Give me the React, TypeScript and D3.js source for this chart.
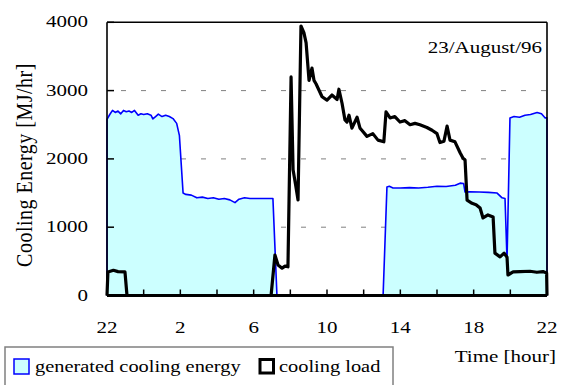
import React from "react";
import * as d3 from "d3";

// Hours elapsed since 22:00 on the previous day (0..24)
const genHours = [
  0, 0, 0.15, 0.3, 0.45, 0.6, 0.75, 0.9, 1.05, 1.2, 1.35, 1.5, 1.7, 1.85, 2.0, 2.2, 2.4, 2.5, 2.65, 2.8,
  3.0, 3.2, 3.4, 3.6, 3.8, 3.95, 4.15, 4.3, 4.6, 4.9, 5.2, 5.5, 5.8, 6.1, 6.4, 6.7, 6.98, 7.2, 7.5,
  7.8, 8.1, 8.4, 8.7, 9.05, 9.27, 15.06, 15.27, 15.4, 15.6, 16.0, 16.5, 17.0, 17.5, 18.0, 18.5, 19.0,
  19.26, 19.45, 19.53, 19.8, 20.3, 20.8, 21.28, 21.55, 21.71, 21.82, 21.98, 22.2, 22.5, 22.8, 23.1,
  23.46, 23.7, 23.9, 24, 24,
];
const genValues = [
  0, 2580, 2650, 2710, 2680, 2700, 2660, 2710, 2690, 2700, 2680, 2710, 2640, 2660, 2650, 2660, 2640, 2585,
  2620, 2655, 2620, 2640, 2620, 2590, 2520, 2340, 1500, 1480, 1470, 1430, 1440, 1420, 1430, 1410, 1420,
  1400, 1360, 1410, 1430, 1420, 1420, 1420, 1420, 1420, 0, 0, 1590, 1600, 1575, 1575, 1580, 1575, 1585,
  1600, 1595, 1615, 1645, 1640, 1515, 1520, 1515, 1510, 1500, 1430, 1420, 520, 2600, 2620, 2610, 2640,
  2650, 2680, 2660, 2600, 2600, 0,
];

const loadHours = [
  0, 0.05, 0.35, 0.6, 0.98, 1.09, 8.95, 9.16, 9.33, 9.55, 9.71, 9.87, 10.04, 10.15, 10.3, 10.42, 10.58,
  10.74, 10.86, 11.02, 11.18, 11.29, 11.4, 11.73, 12.0, 12.27, 12.55, 12.65, 12.82, 12.98, 13.09, 13.2,
  13.36, 13.64, 13.8, 13.9, 14.18, 14.5, 14.78, 15.1, 15.22, 15.44, 15.7, 15.98, 16.25, 16.53, 16.8,
  17.07, 17.45, 17.73, 18.0, 18.16, 18.38, 18.55, 18.71, 18.98, 19.26, 19.42, 19.53, 19.64, 19.91,
  20.13, 20.35, 20.51, 20.78, 21.06, 21.16, 21.44, 21.66, 21.82, 21.87, 22.15, 22.53, 23.07, 23.45,
  23.78, 23.98, 24,
];
const loadValues = [
  0, 345, 370, 350, 345, 0, 0, 593, 447, 400, 430, 420, 3200, 1840, 1600, 1400, 3946, 3850, 3700, 3150,
  3330, 3150, 3100, 2910, 2860, 2935, 2870, 3020, 2815, 2570, 2540, 2640, 2450, 2610, 2450, 2420, 2330,
  2370, 2275, 2250, 2690, 2600, 2620, 2540, 2560, 2500, 2520, 2500, 2460, 2420, 2370, 2240, 2260, 2480,
  2275, 2250, 2090, 2010, 1985, 1395, 1350, 1330, 1280, 1135, 1180, 1150, 620, 565, 620, 560, 300, 345,
  350, 355, 340, 350, 330, 0,
];

const xTicks = [0, 2, 4, 6, 8, 10, 12, 14, 16, 18, 20, 22, 24];
const xLabelTicks = [0, 4, 8, 12, 16, 20, 24];
const xTickLabels = ["22", "2", "6", "10", "14", "18", "22"];
const yTicks = [0, 1000, 2000, 3000, 4000];
const yGrid = [1000, 2000, 3000];

const FONT = "'Liberation Serif', 'Times New Roman', serif";
const SX = 1.2;

export default function App() {
  const x = d3.scaleLinear().domain([0, 24]).range([107, 547]);
  const y = d3.scaleLinear().domain([0, 4000]).range([295.5, 22.3]);

  const gen = genHours.map((h, i) => [h, genValues[i]] as [number, number]);
  const load = loadHours.map((h, i) => [h, loadValues[i]] as [number, number]);

  const area = d3
    .area<[number, number]>()
    .x((d) => x(d[0]))
    .y0(y(0))
    .y1((d) => y(d[1]));
  const line = d3
    .line<[number, number]>()
    .x((d) => x(d[0]))
    .y((d) => y(d[1]));

  const [x0, x1] = x.range();
  const t = (px: number, py: number) => `translate(${px},${py}) scale(${SX},1)`;

  return (
    <svg
      width={564}
      height={385}
      style={{ position: "absolute", left: 0, top: 0, background: "#fff" }}
      fontFamily={FONT}
    >
      {/* dashed grid */}
      {yGrid.map((v) => (
        <line
          key={v}
          x1={x0}
          x2={x1}
          y1={y(v)}
          y2={y(v)}
          stroke="#808080"
          strokeWidth={1}
          strokeDasharray="5,15"
          strokeDashoffset={-14}
        />
      ))}

      {/* generated cooling energy */}
      <path d={area(gen) ?? ""} fill="#ccffff" stroke="none" />
      <path d={line(gen) ?? ""} fill="none" stroke="#0000ff" strokeWidth={1.6} strokeLinejoin="round" />

      {/* frame */}
      <line x1={x0} x2={x1} y1={y(4000)} y2={y(4000)} stroke="#000" strokeWidth={1.6} />
      <line x1={x1} x2={x1} y1={y(4000)} y2={y(0)} stroke="#000" strokeWidth={1.6} />
      <line x1={x0} x2={x0} y1={y(4000)} y2={y(0)} stroke="#000" strokeWidth={1.6} />

      {/* inward ticks */}
      {yTicks.map((v) => (
        <line key={v} x1={x0} x2={x0 + 7} y1={y(v)} y2={y(v)} stroke="#000" strokeWidth={1.5} />
      ))}
      {xTicks.map((h) => (
        <line key={h} x1={x(h)} x2={x(h)} y1={y(0)} y2={y(0) - 6} stroke="#000" strokeWidth={1.5} />
      ))}

      {/* cooling load */}
      <path d={line(load) ?? ""} fill="none" stroke="#000" strokeWidth={3.2} strokeLinejoin="round" />
      <line x1={x0} x2={x1} y1={y(0)} y2={y(0)} stroke="#000" strokeWidth={3} />

      {/* tick labels */}
      {yTicks.map((v) => (
        <text key={v} transform={t(88, y(v) + 5)} textAnchor="end" fontSize={17.5} fill="#000">
          {v}
        </text>
      ))}
      {xLabelTicks.map((h, i) => (
        <text key={h} transform={t(x(h), 333)} textAnchor="middle" fontSize={17.5} fill="#000">
          {xTickLabels[i]}
        </text>
      ))}

      {/* axis titles */}
      <text
        transform={`translate(32,165) scale(${SX},1) rotate(-90)`}
        textAnchor="middle"
        fontSize={20}
        letterSpacing={0.5}
        fill="#000"
      >
        Cooling Energy [MJ/hr]
      </text>
      <text transform={t(556, 362)} textAnchor="end" fontSize={17.5} fill="#000">
        Time [hour]
      </text>
      <text transform={t(542, 53)} textAnchor="end" fontSize={17.5} fill="#000">
        23/August/96
      </text>

      {/* legend */}
      <rect x={5} y={347} width={388} height={45} fill="#fff" stroke="#808080" strokeWidth={1.5} />
      <rect x={14} y={359} width={15} height={15} fill="#ccffff" stroke="#0000ff" strokeWidth={1.5} />
      <text transform={t(35, 372)} fontSize={17} fill="#000">
        generated cooling energy
      </text>
      <rect x={260} y={359.5} width={13.5} height={13.5} fill="#fff" stroke="#000" strokeWidth={3} />
      <text transform={t(279, 372)} fontSize={17} fill="#000">
        cooling load
      </text>
    </svg>
  );
}
